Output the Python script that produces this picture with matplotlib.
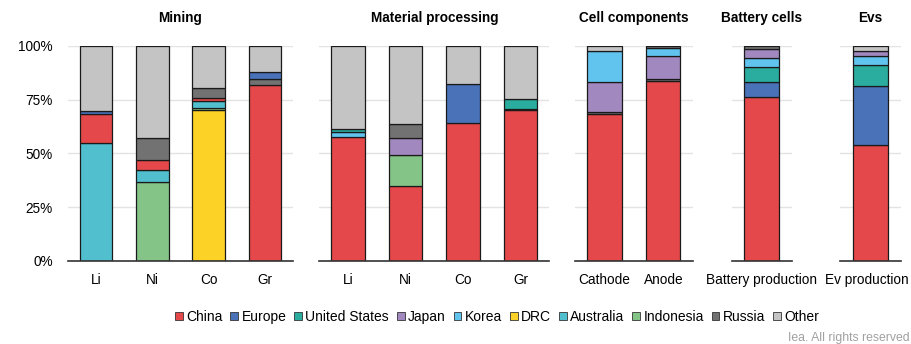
import matplotlib
matplotlib.use("Agg")
import matplotlib.pyplot as plt
import matplotlib.transforms as mtransforms
from matplotlib.patches import Patch

plt.rcParams["font.family"] = ["Liberation Sans", "DejaVu Sans"]

# ---------------- DATA ----------------
# each bar: list of (country, share %) from bottom to top

colors = {
    "China": "#e5484a",
    "Europe": "#4a72b8",
    "United States": "#2aad9f",
    "Japan": "#a188bf",
    "Korea": "#61c4ef",
    "DRC": "#fdd226",
    "Australia": "#52bfcf",
    "Indonesia": "#84c487",
    "Russia": "#727272",
    "Other": "#c4c4c4",
}

mining_labels = ["Li", "Ni", "Co", "Gr"]
mining = [
    [("Australia", 54.7), ("China", 13.9), ("Europe", 1.0), ("Other", 30.4)],
    [("Indonesia", 36.6), ("Australia", 5.9), ("China", 4.7), ("Russia", 10.0), ("Other", 42.8)],
    [("DRC", 70.2), ("Indonesia", 0.8), ("Australia", 3.5), ("China", 1.3), ("Russia", 4.6), ("Other", 19.6)],
    [("China", 81.7), ("Russia", 2.8), ("Europe", 3.2), ("Other", 12.3)],
]

processing_labels = ["Li", "Ni", "Co", "Gr"]
processing = [
    [("China", 57.5), ("Korea", 2.3), ("United States", 1.5), ("Other", 38.7)],
    [("China", 35.1), ("Indonesia", 14.4), ("Japan", 7.8), ("Russia", 6.4), ("Other", 36.3)],
    [("China", 64.4), ("Europe", 17.7), ("Other", 17.9)],
    [("China", 70.0), ("Russia", 0.5), ("United States", 4.7), ("Other", 24.8)],
]

cell_labels = ["Cathode", "Anode"]
cell = [
    [("China", 68.2), ("Russia", 0.9), ("Japan", 14.0), ("Korea", 14.6), ("Other", 2.3)],
    [("China", 83.9), ("Russia", 0.6), ("Japan", 10.8), ("Korea", 3.6), ("Russia", 1.1)],
]

battery_labels = ["Battery production"]
battery = [
    [("China", 76.2), ("Europe", 7.0), ("United States", 6.9), ("Korea", 4.5), ("Japan", 4.0), ("Russia", 1.4)],
]

ev_labels = ["Ev production"]
ev = [
    [("China", 53.9), ("Europe", 27.3), ("United States", 10.1), ("Korea", 4.2), ("Japan", 2.3), ("Other", 2.2)],
]

panels = [
    ("Mining", mining_labels, mining, [0.0746, 0.247]),
    ("Material processing", processing_labels, processing, [0.3505, 0.2525]),
    ("Cell components", cell_labels, cell, [0.6312, 0.1292]),
    ("Battery cells", battery_labels, battery, [0.8032, 0.0659]),
    ("Evs", ev_labels, ev, [0.9221, 0.0666]),
]

# ---------------- PLOT ----------------

fig = plt.figure(figsize=(9.11, 3.44), dpi=100)

for i, (title, labels, bars, (left, width)) in enumerate(panels):
    ax = fig.add_axes([left, 0.2413, width, 0.625])
    for x, segs in enumerate(bars):
        bottom = 0
        for country, val in segs:
            ax.bar(x, val, 0.58, bottom=bottom, color=colors[country],
                   edgecolor="#1a1a1a", linewidth=0.9, zorder=3)
            bottom += val
    ax.set_xlim(-0.5, len(bars) - 0.5)
    ax.set_ylim(0, 100)
    ax.set_yticks([0, 25, 50, 75, 100])
    ax.grid(axis="y", color="#e3e3e3", linewidth=1, zorder=0)
    ax.set_xticks(range(len(labels)))
    ax.set_xticklabels(labels, fontsize=9.8)
    if i == 0:
        ax.set_yticklabels(["0%", "25%", "50%", "75%", "100%"], fontsize=9.8)
    else:
        ax.set_yticklabels([])
    ax.tick_params(length=0, pad=9)
    ax.tick_params(axis="y", pad=11)
    for s in ["top", "right", "left"]:
        ax.spines[s].set_visible(False)
    ax.spines["bottom"].set_color("#333333")
    ax.spines["bottom"].set_linewidth(1.2)
    ax.spines["bottom"].set_zorder(4)
    ax.set_title(title, fontsize=9.8, fontweight="bold", pad=17)
    if title == "Evs":
        # nudge the last label left so it stays inside the picture
        lab = ax.get_xticklabels()[0]
        lab.set_transform(lab.get_transform() +
                          mtransforms.ScaledTranslation(-4 / 100, 0, fig.dpi_scale_trans))

handles = [Patch(facecolor=c, edgecolor="#333333", linewidth=0.6, label=k)
           for k, c in colors.items()]
fig.legend(handles=handles, loc="center", bbox_to_anchor=(0.5456, 0.0785),
           ncol=10, frameon=False, fontsize=10, handlelength=0.55,
           handleheight=0.55, handletextpad=0.25, columnspacing=0.57,
           borderpad=0)

fig.text(0.998, 0.0174, "Iea. All rights reserved", ha="right", va="center",
         fontsize=8.8, color="#a0a0a0")

plt.savefig("out.png", dpi=100)
